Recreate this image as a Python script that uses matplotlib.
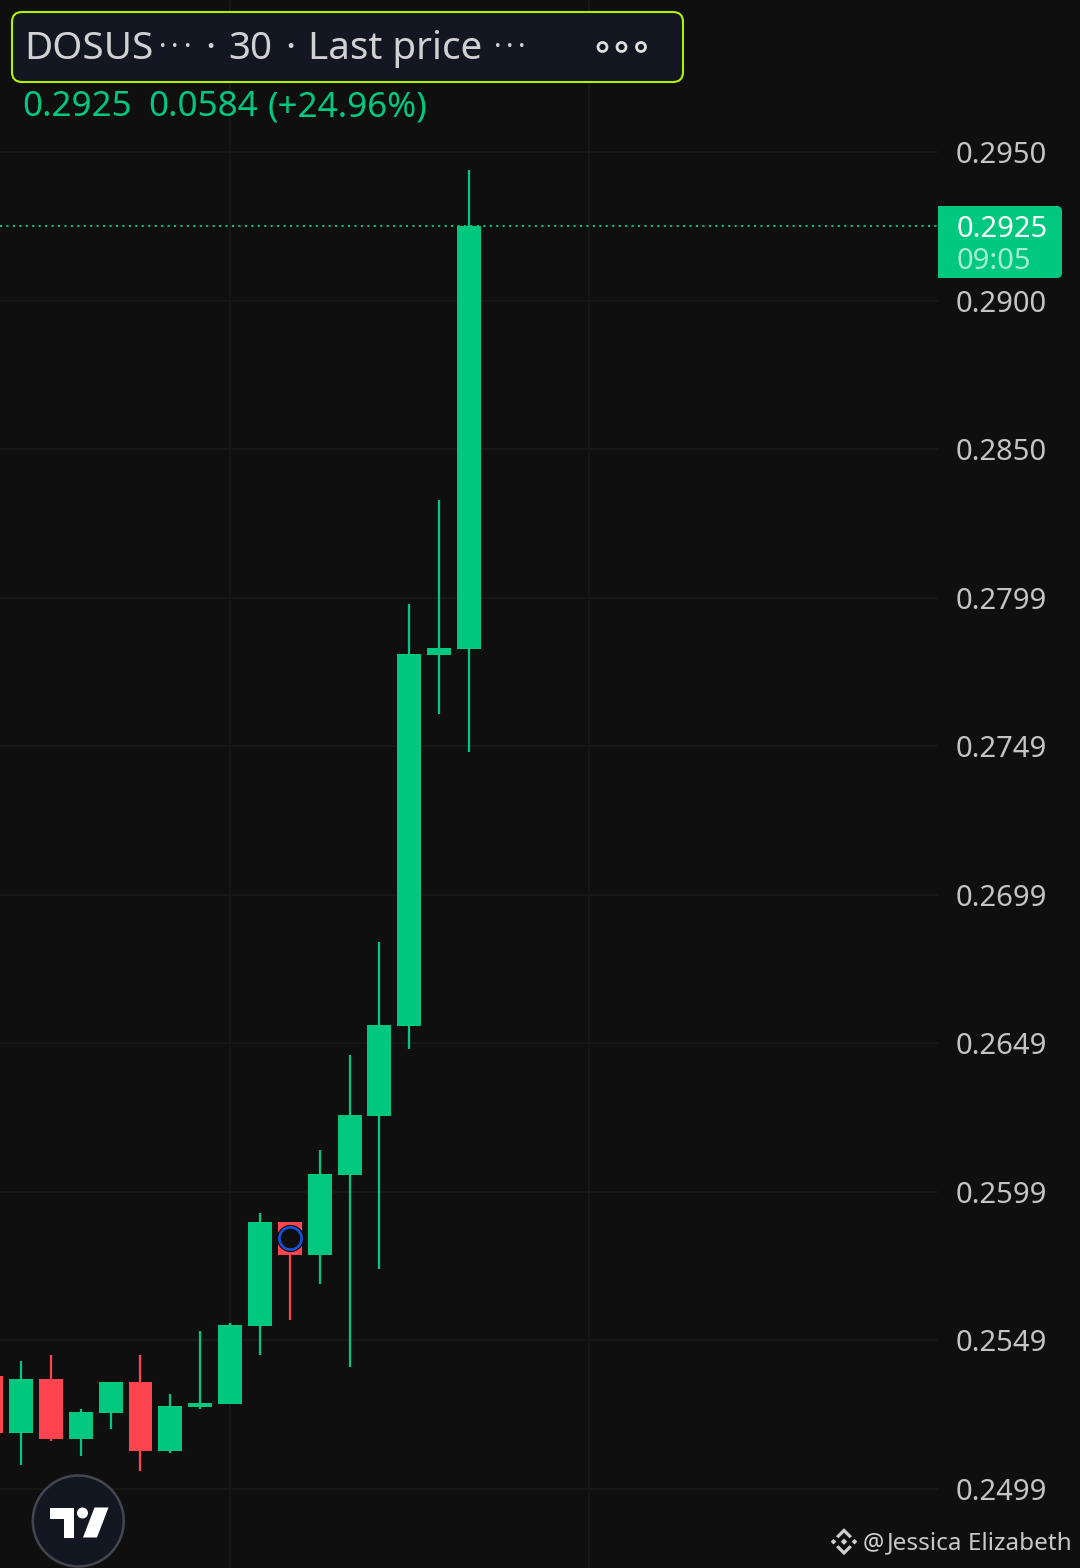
from matplotlib import pyplot as plt
from matplotlib.patches import Circle, FancyBboxPatch, Polygon, Rectangle
import numpy as np

plt.rcParams['font.family'] = ['Noto Sans', 'DejaVu Sans']

BG = "#0f0f0f"
GRID = "#181818"
GREEN = "#00c97f"
RED = "#ff434f"
TICK_COLOR = "#c4c4c4"

# candles (first one is cut by the left edge)
index = np.arange(-1, 16)
opens = [0.25371, 0.25179, 0.25361, 0.25159, 0.25246, 0.25351, 0.25118, 0.25267, 0.25277,
         0.25540, 0.25891, 0.25779, 0.26049, 0.26248, 0.26552, 0.27803, 0.27824]
closes = [0.25179, 0.25361, 0.25159, 0.25250, 0.25351, 0.25118, 0.25270, 0.25280, 0.25543,
          0.25891, 0.25779, 0.26053, 0.26252, 0.26555, 0.27807, 0.27827, 0.29250]
highs = [0.25371, 0.25422, 0.25442, 0.25260, 0.25351, 0.25442, 0.25310, 0.25523, 0.25550,
         0.25921, 0.25891, 0.26133, 0.26454, 0.26835, 0.27975, 0.28326, 0.29439]
lows = [0.25179, 0.25071, 0.25152, 0.25101, 0.25192, 0.25051, 0.25111, 0.25260, 0.25277,
        0.25442, 0.25560, 0.25681, 0.25402, 0.25732, 0.26474, 0.27604, 0.27476]

tick_prices = [0.29500, 0.28999, 0.28498, 0.27997, 0.27496, 0.26994, 0.26493, 0.25992, 0.25491, 0.24990]
tick_labels = ["0.2950", "0.2900", "0.2850", "0.2799", "0.2749", "0.2699", "0.2649", "0.2599", "0.2549", "0.2499"]
time_grid = [7, 19]

last_price = 0.2925
marker_index = 9
marker_price = 0.25837

fig = plt.figure(figsize=(10.8, 15.68), dpi=100, facecolor=BG)
ax = fig.add_axes([0, 0, 938 / 1080, 1], facecolor=BG)

# pixel -> data: 29.87 px per candle, 29645 px per price unit
ax.set_xlim(-21 / 29.87, (938 - 21) / 29.87)
ax.set_ylim(0.2950 - (1568 - 152) / 29645, 0.2950 + 152 / 29645)

colors = [GREEN if c >= o else RED for o, c in zip(opens, closes)]
bottoms = np.minimum(opens, closes)
heights = np.abs(np.array(closes) - np.array(opens))
ax.vlines(index, lows, highs, colors=colors, linewidth=1.6, zorder=3)
ax.bar(index, heights, bottom=bottoms, width=0.8, color=colors, linewidth=0, zorder=4)

ax.axhline(last_price, color=GREEN, linewidth=1.45, linestyle=(0, (1, 2.2)), zorder=2)
ax.plot([marker_index], [marker_price], "o", ms=16, mfc="none", mec="#0b0b0f", mew=3.6, zorder=5)
ax.plot([marker_index], [marker_price], "o", ms=16, mfc=BG, mec="#1652d8", mew=1.9, zorder=6)

ax.set_yticks(tick_prices, tick_labels)
ax.set_xticks(time_grid, [""] * len(time_grid))
ax.yaxis.tick_right()
ax.tick_params(axis="y", length=0, pad=13, labelsize=21, labelcolor=TICK_COLOR)
ax.tick_params(axis="x", length=0)
ax.grid(True, color=GRID, linewidth=1.4, zorder=0)
for spine in ax.spines.values():
    spine.set_visible(False)

# overlay in screen pixels for the header, price tag and logos
ui = fig.add_axes([0, 0, 1, 1], facecolor="none")
ui.set_xlim(0, 1080)
ui.set_ylim(1568, 0)
ui.axis("off")

ui.add_patch(FancyBboxPatch((12, 12), 671, 70, boxstyle="round,pad=0,rounding_size=10",
                            fc="#131722", ec="#b2f000", lw=1.5))
header = [(24, "DOSUS"), (205, "·"), (228, "30"), (285, "·"), (308, "Last price")]
for x, label in header:
    ui.text(x, 49, label, color="#d1d1d3", fontsize=27.8, va="center", ha="left")
for x in (163, 175, 187.5, 498, 510, 522):
    ui.text(x, 48, "·", color="#d1d1d3", fontsize=20, va="center", ha="center")
for x in (602.5, 621.5, 641):
    ui.add_patch(Circle((x, 47), 4.5, fc="none", ec="#e0e0e0", lw=2))

for x, label in [(22, "0.2925"), (148, "0.0584"), (268, "(+24.96%)")]:
    ui.text(x, 107, label, color=GREEN, fontsize=25.2, va="center", ha="left")

# price tag, square on the left and rounded on the right
ui.add_patch(FancyBboxPatch((944, 206), 118, 72, boxstyle="round,pad=0,rounding_size=5", fc=GREEN, ec="none"))
ui.add_patch(Rectangle((938, 206), 30, 72, fc=GREEN, ec="none"))
ui.text(957, 229, "0.2925", color="white", fontsize=21, va="center", ha="left")
ui.text(957, 261, "09:05", color="#a5ecd2", fontsize=21, va="center", ha="left")

# tradingview badge
ui.add_patch(Circle((78.3, 1521), 45.5, fc="#131722", ec="#45454f", lw=1.8))
ui.add_patch(Polygon([(50, 1507.5), (74, 1507.5), (74, 1537.5), (63.5, 1537.5), (63.5, 1518.5), (50, 1518.5)],
                     fc="white", ec="none"))
ui.add_patch(Circle((82.5, 1513), 5.5, fc="white", ec="none"))
ui.add_patch(Polygon([(94.5, 1507.5), (108.5, 1507.5), (97, 1537.5), (83, 1537.5)], fc="white", ec="none"))

# binance mark and watermark
bx, by = 844, 1541.7
for dx, dy, r in [(-10.5, 0, 2.8), (10.5, 0, 2.8), (0, 0, 3.2)]:
    ui.add_patch(Polygon([(bx + dx - r, by + dy), (bx + dx, by + dy - r), (bx + dx + r, by + dy), (bx + dx, by + dy + r)],
                         fc="#d0d0d0", ec="none"))
for sign in (-1, 1):
    ui.add_patch(Polygon([(bx, by + sign * 13.5), (bx + 8, by + sign * 5.5), (bx + 5.5, by + sign * 3.5), (bx, by + sign * 9),
                          (bx - 5.5, by + sign * 3.5), (bx - 8, by + sign * 5.5)], fc="#d0d0d0", ec="none"))
ui.text(863, 1543, "@", color="#d0d0d0", fontsize=17, va="center", ha="left")
ui.text(887, 1543, "Jessica Elizabeth", color="#c8c8c8", fontsize=17.5, va="center", ha="left")

fig.savefig("out.png", facecolor=BG)
